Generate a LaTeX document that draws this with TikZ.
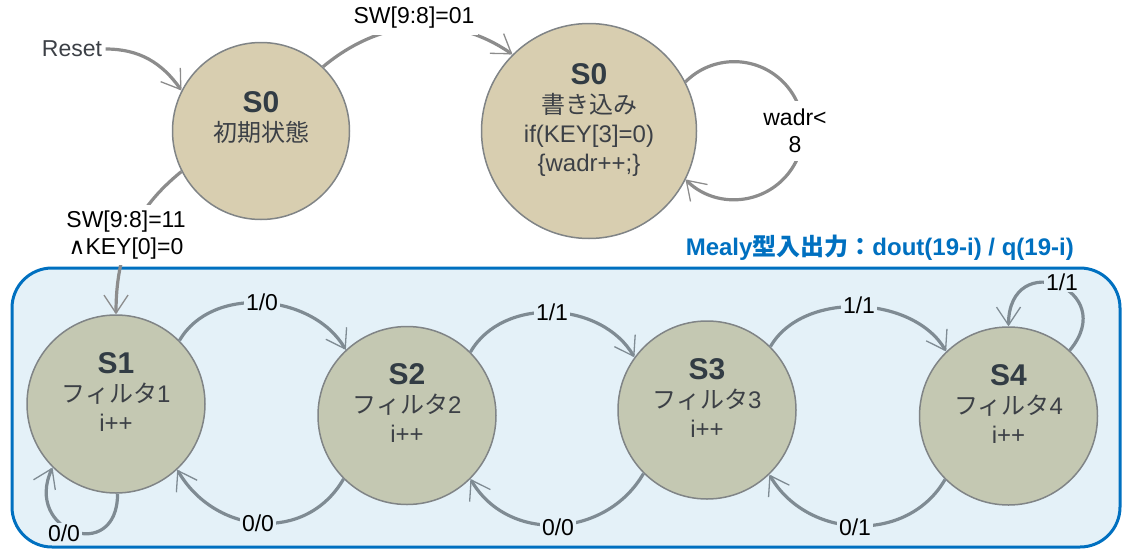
\documentclass[tikz,border=0pt]{standalone}
\usepackage{fontspec}
\setmainfont{Liberation Sans}
\newfontfamily\jpfont{Noto Sans CJK JP}
\newfontfamily\dvfont{DejaVu Sans}
\usepackage{xcolor}
\usepackage{tikz}
\usetikzlibrary{arrows.meta}
\definecolor{topedge}{RGB}{140,140,140}
\definecolor{boxedge}{RGB}{127,139,147}
\definecolor{stborder}{RGB}{128,132,134}
\definecolor{tanfill}{RGB}{216,206,176}
\definecolor{filtfill}{RGB}{196,200,178}
\definecolor{mealyblue}{RGB}{0,112,192}
\definecolor{mealyfill}{RGB}{228,241,248}
\definecolor{namecol}{RGB}{50,60,68}
\definecolor{subcol}{RGB}{60,64,70}
\newcommand{\stname}[1]{{\fontsize{30}{29}\selectfont\bfseries\color{namecol}#1}}
\tikzset{
    base/.style={font=\fontsize{23}{27}\selectfont},
    initstate/.style={circle, draw=stborder, fill=tanfill, line width=1.5pt},
    filtstate/.style={circle, draw=stborder, fill=filtfill, line width=1.5pt, minimum size=178pt},
    sttext/.style={align=center, anchor=north, inner sep=0pt, text=subcol, font=\fontsize{24}{29}\selectfont},
    elabel/.style={base, fill=white, inner sep=4pt},
    blabel/.style={elabel, fill=mealyfill, inner sep=2pt},
    arrowtop/.style={line width=3.2pt, draw=topedge, -{Straight Barb[length=18pt, width=24pt, line width=1.3pt]}},
    arrowbox/.style={arrowtop, draw=boxedge},
    mealybox/.style={rectangle, rounded corners=40pt, draw=mealyblue, line width=3pt, fill=mealyfill, minimum width=1108pt, minimum height=279pt},
    title/.style={font=\fontsize{24}{28}\selectfont\bfseries, text=mealyblue, anchor=east, inner sep=0pt}
}

\begin{document}
\begin{tikzpicture}[x=1pt, y=1pt]
    \useasboundingbox (0,0) rectangle (1125,-552);

    % -- Mealy area --
    \node[mealybox] (area) at (566,-407.5) {};
    \node[title] (mealy) at (1074,-248) {Mealy{\jpfont 型入出力：}dout(19-i) / q(19-i)};

    % -- States --
    \node[initstate, minimum size=177pt] (s0i) at (261,-131) {};
    \node[initstate, minimum size=215pt] (s0w) at (589,-131) {};
    \node[filtstate] (s1) at (116,-404) {};
    \node[filtstate] (s2) at (407,-415.5) {};
    \node[filtstate] (s3) at (707,-410) {};
    \node[filtstate] (s4) at (1008.5,-416) {};

    \node[sttext] (s0it) at ([yshift=40pt]s0i.center) {\stname{S0}\\{\jpfont 初期状態}};
    \node[sttext] (s0wt) at ([yshift=68pt]s0w.center) {\stname{S0}\\{\jpfont 書き込み}\\if(KEY[3]=0)\\\{wadr++;\}};
    \node[sttext] (s1t) at ([yshift=52pt]s1.center) {\stname{S1}\\{\jpfont フィルタ}1\\i++};
    \node[sttext] (s2t) at ([yshift=52pt]s2.center) {\stname{S2}\\{\jpfont フィルタ}2\\i++};
    \node[sttext] (s3t) at ([yshift=52pt]s3.center) {\stname{S3}\\{\jpfont フィルタ}3\\i++};
    \node[sttext] (s4t) at ([yshift=52pt]s4.center) {\stname{S4}\\{\jpfont フィルタ}4\\i++};

    % -- Upper transitions --
    \node[base, text=subcol] (reset) at (72,-49) {Reset};
    \draw[arrowtop] (reset.east) to[out=0, in=125] (s0i.153);
    \draw[arrowtop] (s0i.46) to[out=40, in=145] (s0w.135);
    \draw[arrowtop] (s0i.207) to[out=219, in=90] (s1.north);
    \draw[arrowtop] (s0w.27) arc[start angle=135, end angle=-135, radius=69];

    \node[elabel, inner ysep=6pt] (sw01) at (414,-18) {SW[9:8]=01};
    \node[elabel, align=center, inner ysep=6pt] (sw11) at (126,-235) {SW[9:8]=11\\{\dvfont ∧}KEY[0]=0};
    \node[elabel, align=center, inner ysep=8pt] (wadr) at (795,-131) {wadr<\\8};

    % -- Filter transitions --
    \draw[arrowbox] (s1.45) to[out=60, in=120, distance=65pt] (s2.133);
    \draw[arrowbox] (s2.45) to[out=60, in=120, distance=65pt] (s3.144);
    \draw[arrowbox] (s3.45) to[out=60, in=120, distance=65pt] (s4.134);
    \draw[arrowbox] (s2.225) to[out=240, in=-60, distance=75pt] (s1.-47);
    \draw[arrowbox] (s3.225) to[out=240, in=-60, distance=75pt] (s2.-45);
    \draw[arrowbox] (s4.225) to[out=240, in=-60, distance=75pt] (s3.-46);
    \draw[arrowbox] (s1.-89) to[out=-90, in=-115, distance=71pt] (s1.225);
    \draw[arrowbox] (s4.47) to[out=50, in=90, distance=80pt] (s4.north);

    \node[blabel] (l12) at (262,-302) {1/0};
    \node[blabel] (l23) at (552,-312) {1/1};
    \node[blabel] (l34) at (859,-305) {1/1};
    \node[blabel] (l21) at (258,-523) {0/0};
    \node[blabel] (l32) at (558,-527) {0/0};
    \node[blabel] (l43) at (855,-527) {0/1};
    \node[blabel] (l11) at (64,-533) {0/0};
    \node[blabel] (l44) at (1062,-282) {1/1};
\end{tikzpicture}
\end{document}
